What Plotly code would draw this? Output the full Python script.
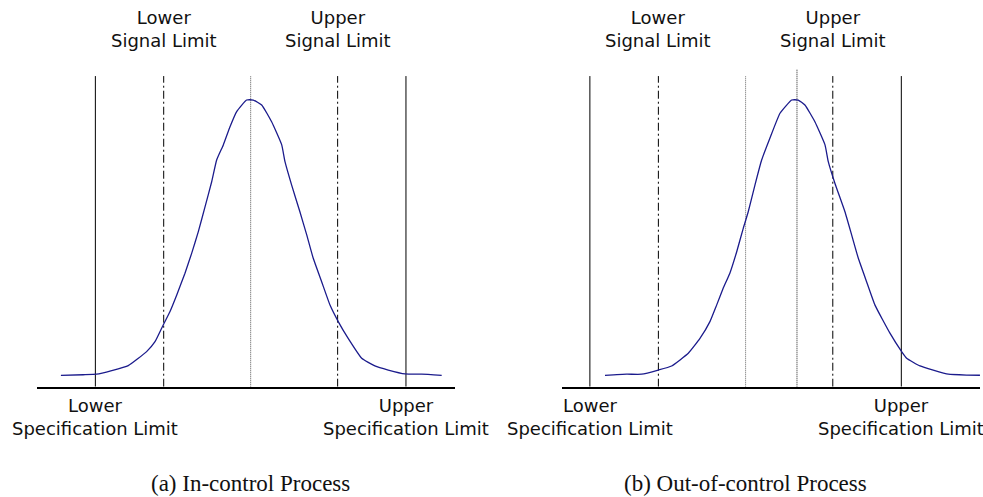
import plotly.graph_objects as go

# ---------------- data ----------------
target = 50.0
lsl, usl = 40.0, 60.0                 # specification limits
lower_signal, upper_signal = 44.4, 55.6  # signal limits
shifted_mean = 53.3                   # mean of out-of-control process

# (a) in-control process curve (relative frequency)
a_x = [37.78, 39.22, 40.08, 41.05, 42.12, 43.30, 43.84, 44.37, 44.80, 45.24,
       45.77, 46.20, 46.63, 47.06, 47.49, 47.81, 48.24, 48.67, 49.10, 49.74,
       50.17, 50.71, 51.35, 52.00, 52.21, 52.64, 53.17, 53.61, 54.03, 54.57,
       55.11, 55.64, 56.28, 57.15, 58.00, 58.86, 59.94, 61.01, 62.30]
a_y = [0.000, 0.002, 0.004, 0.017, 0.035, 0.086, 0.122, 0.183, 0.231, 0.292,
       0.371, 0.443, 0.522, 0.612, 0.703, 0.782, 0.837, 0.903, 0.958, 1.000,
       1.000, 0.982, 0.921, 0.837, 0.776, 0.691, 0.594, 0.510, 0.425, 0.340,
       0.255, 0.195, 0.134, 0.062, 0.034, 0.019, 0.005, 0.004, 0.000]

# (b) out-of-control process curve
b_x = [40.97, 42.36, 43.32, 44.39, 45.25, 46.32, 47.07, 47.71, 48.14, 48.56,
       48.99, 49.43, 49.85, 50.17, 50.60, 51.03, 51.56, 52.21, 52.96, 53.38,
       53.81, 54.45, 55.10, 55.31, 55.74, 56.38, 56.81, 57.24, 57.77, 58.31,
       59.27, 60.02, 60.34, 61.20, 62.05, 63.02, 64.20, 65.26]
b_y = [0.000, 0.004, 0.004, 0.019, 0.034, 0.080, 0.134, 0.195, 0.255, 0.316,
       0.371, 0.449, 0.534, 0.594, 0.691, 0.782, 0.861, 0.952, 1.000, 1.000,
       0.982, 0.921, 0.837, 0.776, 0.697, 0.594, 0.510, 0.425, 0.340, 0.255,
       0.153, 0.086, 0.062, 0.034, 0.019, 0.004, 0.001, 0.000]

captions = ["(a) In-control Process", "(b) Out-of-control Process"]
signal_labels = ["Lower<br>Signal Limit", "Upper<br>Signal Limit"]
spec_labels = ["Lower<br>Specification Limit", "Upper<br>Specification Limit"]

# ---------------- style ----------------
Y_MIN, Y_MAX = -0.0414, 1.3633
LINE_TOP = 1.087
MEAN_TOP = 1.113
CURVE_COLOR = "#1b1b8c"
SANS = "DejaVu Sans"
SERIF = "Liberation Serif"

fig = go.Figure()


def vline(x, xa, ya, dash, color="black", top=LINE_TOP, width=1):
    fig.add_trace(go.Scatter(x=[x, x], y=[Y_MIN, top], mode="lines",
                             line=dict(color=color, width=width, dash=dash),
                             xaxis=xa, yaxis=ya, showlegend=False, hoverinfo="skip"))


DASHDOT = "8px,3px,2px,3px"
DOT = "1px,1px"

# panel (a)
for v in (lsl, usl):
    vline(v, "x", "y", "solid")
for v in (lower_signal, upper_signal):
    vline(v, "x", "y", DASHDOT)
vline(target, "x", "y", DOT, color="#555555")
fig.add_trace(go.Scatter(x=a_x, y=a_y, mode="lines",
                         line=dict(color=CURVE_COLOR, width=1.3, shape="spline", smoothing=0.4),
                         xaxis="x", yaxis="y", showlegend=False))

# panel (b)
for v in (lsl, usl):
    vline(v, "x2", "y2", "solid")
for v in (lower_signal, upper_signal):
    vline(v, "x2", "y2", DASHDOT)
vline(target, "x2", "y2", DOT, color="#666666")
vline(shifted_mean, "x2", "y2", DOT, color="#222222", top=MEAN_TOP)
fig.add_trace(go.Scatter(x=b_x, y=b_y, mode="lines",
                         line=dict(color=CURVE_COLOR, width=1.3, shape="spline", smoothing=0.4),
                         xaxis="x2", yaxis="y2", showlegend=False))

axis_common = dict(showgrid=False, zeroline=False, showticklabels=False,
                   ticks="", fixedrange=True)
Y_DOMAIN = [0.2219, 1.0]

fig.update_layout(
    width=983, height=497,
    margin=dict(l=0, r=0, t=0, b=0),
    paper_bgcolor="white", plot_bgcolor="white",
    xaxis=dict(domain=[0.0373, 0.4629], range=[36.22, 63.16], showline=True,
               linecolor="black", linewidth=1.5, anchor="y", **axis_common),
    yaxis=dict(domain=Y_DOMAIN, range=[Y_MIN, Y_MAX], showline=False,
               anchor="x", **axis_common),
    xaxis2=dict(domain=[0.5714, 0.9969], range=[38.19, 65.05], showline=True,
                linecolor="black", linewidth=1.5, anchor="y2", **axis_common),
    yaxis2=dict(domain=Y_DOMAIN, range=[Y_MIN, Y_MAX], showline=False,
                anchor="x2", **axis_common),
)

anns = []
for xa, cap in (("x", captions[0]), ("x2", captions[1])):
    for v, t in zip((lower_signal, upper_signal), signal_labels):
        anns.append(dict(x=v, xref=xa, y=0.9416, yref="paper", text=t,
                         showarrow=False, xanchor="center", yanchor="middle",
                         font=dict(family=SANS, size=18, color="#111111")))
    for v, t in zip((lsl, usl), spec_labels):
        anns.append(dict(x=v, xref=xa, y=0.1604, yref="paper", text=t,
                         showarrow=False, xanchor="center", yanchor="middle",
                         font=dict(family=SANS, size=18, color="#111111")))
    anns.append(dict(x=target, xref=xa, y=0.0262, yref="paper", text=cap,
                     showarrow=False, xanchor="center", yanchor="middle",
                     font=dict(family=SERIF, size=23, color="#111111")))
fig.update_layout(annotations=anns)

fig.write_html("out.html",
               config={"displayModeBar": False},
               post_script="document.body.style.margin='0';"
                           "document.body.style.overflow='hidden';")
